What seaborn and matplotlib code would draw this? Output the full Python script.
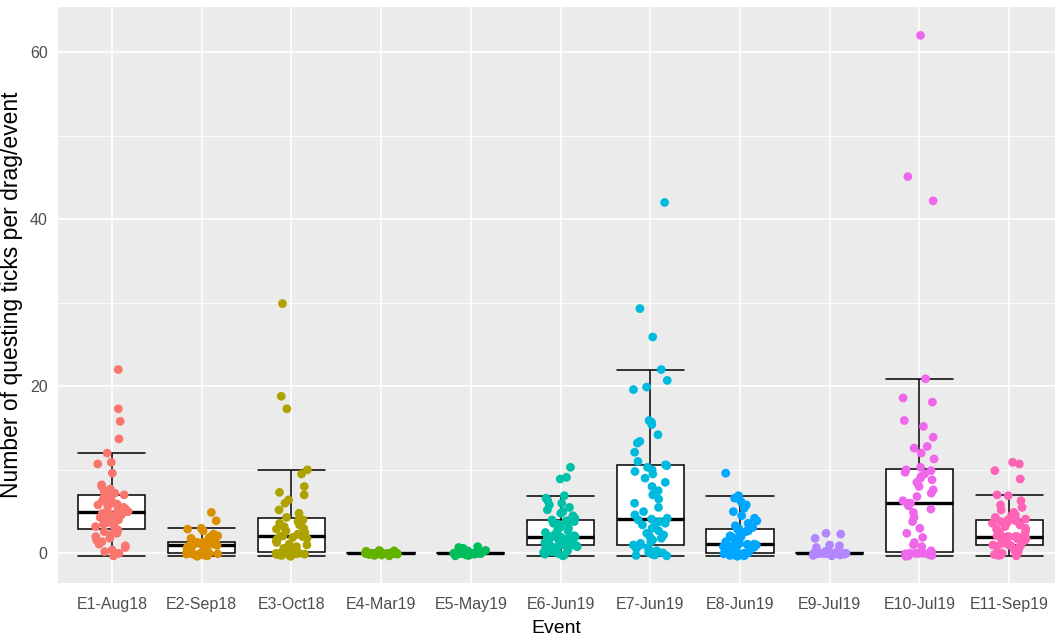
import numpy as np
import pandas as pd
import matplotlib
matplotlib.use("Agg")
import matplotlib.pyplot as plt
from matplotlib.ticker import FixedLocator
import seaborn as sns

events = ["E1-Aug18", "E2-Sep18", "E3-Oct18", "E4-Mar19", "E5-May19", "E6-Jun19",
          "E7-Jun19", "E8-Jun19", "E9-Jul19", "E10-Jul19", "E11-Sep19"]

colors = ["#F8766D", "#DB8E00", "#AEA200", "#64B200", "#00BD5C", "#00C1A7",
          "#00BADE", "#00A6FF", "#B385FF", "#EF67EB", "#FF63B6"]

e1 = [-0.3, 0.0, 0.2, 0.4, 0.7, 0.9, 1.1, 1.4, 1.6, 1.8, 2.0, 2.2, 2.4, 2.6, 2.8,
      3.0, 3.2, 3.4, 3.5, 3.7, 3.9, 4.0, 4.2, 4.3, 4.5, 4.6, 4.7, 4.8, 4.9, 5.0,
      5.0, 5.1, 5.3, 5.5, 5.6, 5.8, 5.9, 6.0, 6.2, 6.3, 6.4, 6.5, 6.6, 6.8, 6.9,
      7.0, 7.2, 7.4, 7.5, 7.7, 8.0, 8.2, 9.6, 10.7, 10.9, 12.0, 13.7, 15.8, 17.3, 22.0]
e2 = [-0.35, -0.3, -0.25, -0.2, -0.18, -0.15, -0.1, -0.08, -0.05, -0.02, 0.0, 0.0,
      0.02, 0.05, 0.1, 0.2,
      0.65, 0.7, 0.75, 0.8, 0.85, 0.9, 0.92, 0.95, 0.98, 1.0, 1.02, 1.05, 1.08, 1.1,
      1.12, 1.15, 1.2, 1.22, 1.25, 1.28, 1.3, 1.32, 1.35,
      1.7, 1.8, 1.9, 2.0, 2.1, 2.3, 2.7, 2.9, 3.0, 3.9, 4.9]
e3 = [-0.35, -0.3, -0.25, -0.2, -0.15, -0.1, -0.05, -0.02, 0.0, 0.0, 0.0, 0.02, 0.05,
      0.3, 0.6, 0.8, 1.0, 1.1, 1.3, 1.5, 1.7, 1.8, 1.9, 2.0, 2.0,
      2.1, 2.3, 2.5, 2.7, 2.9, 3.0, 3.2, 3.4, 3.6, 3.8, 4.0, 4.1,
      4.3, 4.8, 5.2, 6.0, 6.4, 7.0, 7.3, 8.0, 9.5, 10.0, 17.3, 18.8, 29.9]
e4 = [0.0] * 28 + [-0.3, -0.25, -0.2, -0.15, -0.1, 0.05, 0.1, 0.15, 0.2, 0.25, 0.3, 0.35]
e5 = [0.0] * 27 + [-0.3, -0.25, -0.2, -0.1, 0.1, 0.15, 0.2, 0.25, 0.3, 0.35, 0.6, 0.7, 0.8]
e6 = [-0.3, -0.2, -0.1, 0.0, 0.1, 0.2, 0.3, 0.6, 0.7, 0.8, 0.9, 0.95, 1.0, 1.0, 1.0,
      1.0, 1.1, 1.2, 1.3, 1.4, 1.5, 1.6, 1.7, 1.8, 1.85, 1.9, 1.95, 2.0, 2.0, 2.0,
      2.0, 2.1, 2.3, 2.5, 2.7, 2.8, 3.0, 3.1, 3.3, 3.5, 3.6, 3.8, 3.9, 4.0, 4.0,
      4.0, 4.2, 4.5, 4.8, 5.0, 5.2, 5.5, 5.8, 6.0, 6.3, 6.6, 6.9, 8.9, 9.1, 10.3]
e7 = [-0.3, -0.25, -0.2, -0.15, -0.1, -0.05, 0.0, 0.05, 0.1, 0.2, 0.3, 0.6, 0.7, 0.8, 0.9, 1.0,
      1.0, 1.2, 1.4, 1.6, 1.8, 2.0, 2.2, 2.4, 2.7, 3.0, 3.2, 3.4, 3.6, 3.8, 4.0, 4.1,
      4.2, 4.6, 5.0, 5.5, 6.0, 6.5, 7.0, 7.5, 8.0, 8.5, 9.0, 9.5, 9.8, 10.0, 10.3, 10.5,
      10.6, 11.0, 12.1, 13.2, 13.4, 14.2, 15.4, 15.7, 15.9, 19.6, 19.9, 20.7, 22.0, 25.9, 29.3, 42.0]
e8 = [-0.35, -0.3, -0.25, -0.2, -0.15, -0.1, -0.05, -0.02, 0.0, 0.0, 0.0, 0.0, 0.0, 0.0,
      0.1, 0.3, 0.6, 0.7, 0.8, 0.85, 0.9, 0.95, 1.0, 1.0, 1.0, 1.05, 1.1, 1.1,
      1.2, 1.4, 1.6, 1.8, 1.9, 2.0, 2.1, 2.3, 2.5, 2.6, 2.7, 2.8, 2.9, 3.0,
      3.1, 3.3, 3.6, 3.9, 4.2, 4.5, 5.0, 5.4, 5.8, 6.2, 6.6, 6.9, 9.6]
e9 = [0.0] * 26 + [-0.3, -0.25, -0.2, -0.1, 0.1, 0.2, 0.25, 0.3, 0.7, 0.9, 1.0, 1.8, 2.3, 2.4]
e10 = [-0.35, -0.3, -0.25, -0.2, -0.15, -0.1, -0.05, 0.0, 0.0, 0.0, 0.0, 0.0, 0.0, 0.0, 0.2, 0.3,
       0.8, 1.0, 1.3, 1.9, 2.4, 3.0, 3.8, 4.3, 4.9, 5.3, 5.7, 6.0,
       6.0, 6.3, 6.8, 7.2, 7.6, 8.0, 8.5, 8.8, 9.0, 9.2, 9.5, 9.7, 9.9, 10.0,
       10.3, 11.3, 12.0, 12.6, 12.8, 13.9, 15.2, 15.9, 18.1, 18.6, 20.9, 42.2, 45.1, 62.0]
e11 = [-0.3, -0.25, -0.2, -0.15, -0.1, -0.05, 0.0, 0.05, 0.1, 0.2, 0.3, 0.7, 0.8, 0.9, 1.0, 1.0,
       1.0, 1.1, 1.2, 1.3, 1.4, 1.5, 1.6, 1.7, 1.8, 1.9, 1.95, 2.0, 2.0, 2.0, 2.0,
       2.0, 2.1, 2.3, 2.5, 2.7, 2.9, 3.0, 3.2, 3.4, 3.6, 3.7, 3.8, 3.9, 4.0, 4.0, 4.0,
       4.1, 4.3, 4.5, 4.6, 4.9, 5.2, 5.5, 5.8, 6.3, 6.9, 7.0, 8.9, 9.9, 10.7, 10.9]

values = [e1, e2, e3, e4, e5, e6, e7, e8, e9, e10, e11]
df = pd.DataFrame({
    "Event": np.concatenate([[ev] * len(v) for ev, v in zip(events, values)]),
    "Ticks": np.concatenate(values),
})
df["Event"] = pd.Categorical(df["Event"], categories=events, ordered=True)

sns.set_theme(style="darkgrid")
plt.rcParams["font.family"] = ["Liberation Sans", "DejaVu Sans"]

fig = plt.figure(figsize=(10.55, 6.41), dpi=100)
ax = fig.add_axes([58 / 1055, 1 - 583 / 641, 1 - 58 / 1055, (583 - 7) / 641])
ax.set_facecolor("#EBEBEB")

sns.boxplot(data=df, x="Event", y="Ticks", order=events, color="white", saturation=1,
            linecolor="black", linewidth=1.1, width=0.75, showfliers=False,
            whis=1.5, capwidths=0.75, medianprops=dict(linewidth=2.4, color="black"),
            ax=ax, zorder=2)

np.random.seed(3)
sns.stripplot(data=df, x="Event", y="Ticks", order=events, hue="Event",
              hue_order=events, palette=colors, jitter=0.19, size=6.3, linewidth=0,
              legend=False, ax=ax, zorder=3)

ax.set_xlim(-0.6, 10.51)
ax.set_ylim(-3.55, 65.4)
ax.yaxis.set_major_locator(FixedLocator([0, 20, 40, 60]))
ax.yaxis.set_minor_locator(FixedLocator([10, 30, 50]))
ax.grid(which="major", color="white", linewidth=1.2)
ax.grid(which="minor", axis="y", color="white", linewidth=0.6)
ax.set_axisbelow(True)
for s in ax.spines.values():
    s.set_visible(False)

ax.tick_params(axis="both", which="major", length=4.5, width=1, color="#333333",
               labelcolor="#4D4D4D", labelsize=11.5)
ax.tick_params(axis="x", which="major", pad=5.5)
ax.tick_params(axis="y", which="major", pad=3)
ax.tick_params(axis="y", which="minor", length=0)
ax.set_xlabel("Event", fontsize=14, color="black", labelpad=6)
ax.set_ylabel("Number of questing ticks per drag/event", fontsize=16.5, color="black", labelpad=5)

fig.savefig("out.png", dpi=100)
